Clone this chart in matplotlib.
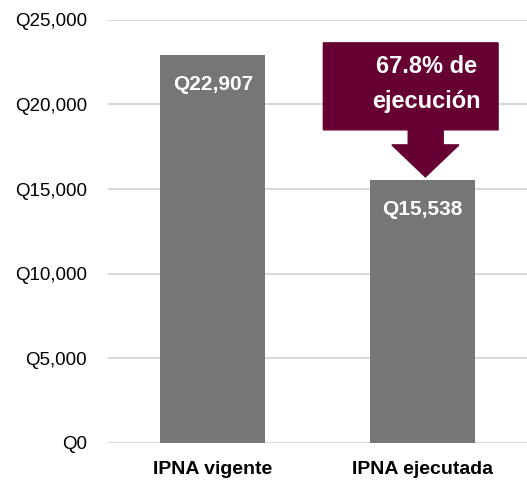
import matplotlib.pyplot as plt
from matplotlib.patches import Polygon
from matplotlib.ticker import FuncFormatter

categorias = ["IPNA vigente", "IPNA ejecutada"]
valores = [22907, 15538]
etiquetas = ["Q22,907", "Q15,538"]
texto_ejecucion = "67.8% de\nejecución"

GRIS = "#767676"
GUINDA = "#660033"

plt.rcParams["font.family"] = ["Liberation Sans", "DejaVu Sans"]

fig = plt.figure(figsize=(5.27, 4.84), dpi=100)
ax = fig.add_axes([0.205, 0.085, 0.795, 0.874])

x = list(range(len(categorias)))
ax.bar(x, valores, width=0.5, color=GRIS, zorder=2)

for xi, v, et in zip(x, valores, etiquetas):
    ax.annotate(et, (xi, v), xytext=(0, -21), textcoords="offset points",
                ha="center", va="center", color="white", fontsize=15,
                fontweight="bold")

ax.set_xlim(-0.5, 1.5)
ax.set_ylim(0, 25000)
ax.set_yticks(range(0, 25001, 5000))
ax.yaxis.set_major_formatter(FuncFormatter(lambda v, p: f"Q{v:,.0f}"))
ax.grid(axis="y", color="#d9d9d9", linewidth=1.5, zorder=0)
ax.set_axisbelow(True)
for s in ax.spines.values():
    s.set_visible(False)
ax.tick_params(axis="y", length=0, pad=15, labelsize=13.5)
ax.tick_params(axis="x", length=0, pad=13)
ax.set_xticks(x)
ax.set_xticklabels(categorias, fontsize=14, fontweight="bold")

# flecha de llamada sobre la barra ejecutada
cx = x[1] + 0.015
tope = valores[1] + 180
forma = [
    (cx - 0.487, 23640), (cx + 0.347, 23640), (cx + 0.347, 18500),
    (cx + 0.085, 18500), (cx + 0.085, 17610), (cx + 0.16, 17610),
    (cx, tope), (cx - 0.16, 17610), (cx - 0.082, 17610),
    (cx - 0.082, 18500), (cx - 0.487, 18500),
]
ax.add_patch(Polygon(forma, closed=True, color=GUINDA, zorder=3, clip_on=False))
ax.text(cx + 0.005, 21200, texto_ejecucion, ha="center", va="center",
        color="white", fontsize=17, fontweight="bold", linespacing=1.65,
        zorder=4)

plt.savefig("out.png", dpi=100)
